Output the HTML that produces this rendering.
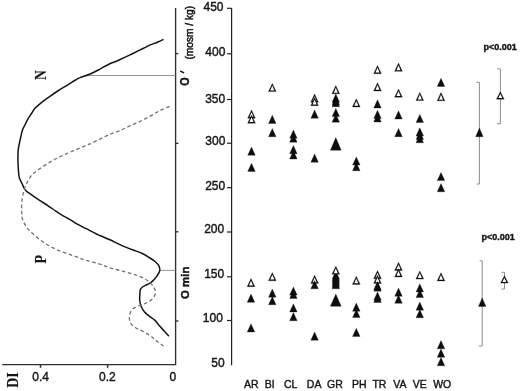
<!DOCTYPE html>
<html><head><meta charset="utf-8"><title>figure</title>
<style>
html,body{margin:0;padding:0;background:#fff;}
body{width:520px;height:391px;overflow:hidden;}
svg{display:block;filter:grayscale(1);}
text{font-family:"Liberation Sans",sans-serif;fill:#161616;stroke:#161616;stroke-width:0.4;}
.t12{font-size:12px;}
.t10{font-size:10.2px;}
.t105{font-size:10.5px;}
.b11{font-size:11px;font-weight:bold;}
.pb{font-size:9px;font-weight:bold;}
.ser{font-family:"Liberation Serif",serif;font-weight:bold;font-size:17.4px;stroke-width:0.15;}
.ax{fill:none;stroke:#303030;stroke-width:1.35;}
.ax2{fill:none;stroke:#222;stroke-width:1.2;}
.ref{fill:none;stroke:#8a8a8a;stroke-width:0.9;}
.br{fill:none;stroke:#8c8c8c;stroke-width:1;}
.sol{fill:none;stroke:#141414;stroke-width:1.5;stroke-linejoin:round;stroke-linecap:round;}
.dsh{fill:none;stroke:#727272;stroke-width:1.3;stroke-dasharray:3.6 2.6;}
.f{fill:#0e0e0e;stroke:#0e0e0e;stroke-width:0.3;stroke-linejoin:miter;}
.w{fill:#fff;}
</style></head>
<body><svg width="520" height="391" viewBox="0 0 520 391">
<path d="M175.6,7.9 V364.55 H2.2" class="ax"/>
<path d="M175.6,53.6 H178.4" class="ax"/>
<path d="M175.6,143.3 H178.4" class="ax"/>
<path d="M175.6,231.8 H178.4" class="ax"/>
<path d="M175.6,321.0 H178.4" class="ax"/>
<path d="M40.5,364.6 V367.8" class="ax" style="stroke-width:1.5"/>
<path d="M107.6,364.6 V367.8" class="ax" style="stroke-width:1.5"/>
<path d="M86.5,75.5 H175.6" class="ref"/>
<path d="M159.9,270.4 H175.6" class="ref"/>
<path d="M162.9,39.6 C162.1,40.0 160.2,41.0 157.9,42.0 C155.6,43.0 151.4,44.4 149.2,45.4 C146.9,46.4 146.0,47.0 144.4,47.8 C142.8,48.6 142.0,49.0 139.6,50.2 C137.2,51.4 133.5,53.2 130.0,54.9 C126.5,56.6 122.0,58.7 118.5,60.2 C115.0,61.8 112.0,62.7 108.8,64.2 C105.6,65.7 102.8,67.6 99.6,69.3 C96.4,71.0 92.9,72.9 89.6,74.3 C86.3,75.7 82.4,76.6 80.0,77.6 C77.6,78.5 77.7,78.6 75.4,80.0 C73.1,81.4 69.3,83.9 66.2,85.8 C63.1,87.7 60.0,89.5 56.9,91.5 C53.8,93.5 50.4,96.0 47.7,97.9 C45.0,99.8 42.9,101.4 40.8,103.1 C38.7,104.8 36.5,106.6 35.0,108.3 C33.5,110.0 32.6,111.8 31.5,113.5 C30.4,115.2 29.2,116.9 28.1,118.7 C27.1,120.5 26.1,122.5 25.2,124.4 C24.2,126.3 23.2,127.7 22.4,130.2 C21.6,132.7 20.9,136.4 20.2,139.6 C19.5,142.8 18.7,146.0 18.3,149.2 C17.9,152.4 17.9,155.6 17.9,158.8 C17.9,162.0 18.1,165.4 18.3,168.5 C18.5,171.6 18.6,174.5 19.2,177.1 C19.8,179.7 21.1,181.7 22.1,183.8 C23.1,185.9 23.8,188.0 25.0,189.6 C26.2,191.2 27.2,191.7 29.2,193.2 C31.2,194.7 34.4,196.9 37.0,198.6 C39.6,200.3 42.0,201.8 44.6,203.5 C47.2,205.2 50.1,207.2 52.8,209.0 C55.5,210.8 58.1,212.7 60.8,214.4 C63.5,216.1 66.5,217.5 69.2,219.1 C72.0,220.7 75.0,222.9 77.3,224.2 C79.6,225.5 81.0,226.0 83.1,227.1 C85.2,228.2 87.1,229.1 90.0,230.6 C92.9,232.1 97.1,234.3 100.4,235.8 C103.7,237.3 106.5,238.2 110.0,239.8 C113.5,241.4 117.7,243.7 121.5,245.4 C125.3,247.1 129.6,248.7 133.1,250.0 C136.6,251.3 139.6,252.2 142.3,253.5 C145.0,254.8 147.1,256.2 149.2,257.5 C151.3,258.8 153.4,260.2 155.0,261.5 C156.6,262.8 157.7,263.7 158.5,265.2 C159.3,266.7 160.1,268.5 159.8,270.3 C159.6,272.1 158.1,274.1 157.0,275.8 C155.9,277.5 154.4,279.3 153.1,280.6 C151.8,281.9 150.8,282.6 149.2,283.6 C147.6,284.6 144.8,285.5 143.3,286.5 C141.8,287.5 141.0,288.1 140.4,289.4 C139.8,290.7 140.0,292.5 139.9,294.3 C139.8,296.1 139.5,298.1 139.7,300.0 C139.9,301.9 140.1,303.8 140.9,305.7 C141.7,307.6 142.9,310.0 144.3,311.7 C145.7,313.4 147.4,314.7 149.2,316.1 C151.0,317.6 153.2,318.7 155.0,320.4 C156.8,322.1 158.3,324.5 159.9,326.3 C161.5,328.1 163.0,329.7 164.4,331.3 C165.8,332.9 167.8,335.0 168.5,335.7" class="sol"/>
<path d="M169.5,106.3 C167.8,107.1 162.6,109.2 159.2,111.0 C155.8,112.8 152.2,115.0 148.8,116.9 C145.4,118.8 141.9,120.6 138.5,122.2 C135.1,123.8 131.3,125.2 128.1,126.7 C124.9,128.2 122.3,129.7 119.4,130.9 C116.5,132.1 114.0,132.6 110.8,133.9 C107.6,135.2 103.6,137.2 100.4,138.8 C97.2,140.4 94.0,142.1 91.7,143.2 C89.4,144.3 89.6,143.9 86.5,145.2 C83.4,146.5 77.3,149.1 73.1,150.9 C68.9,152.7 65.3,154.1 61.5,156.0 C57.6,157.9 53.8,159.8 50.0,162.1 C46.2,164.4 41.5,167.4 38.5,169.6 C35.5,171.8 33.5,173.2 31.7,175.2 C29.9,177.2 28.9,179.2 27.7,181.4 C26.5,183.6 25.5,185.8 24.6,188.3 C23.8,190.8 23.1,193.6 22.6,196.3 C22.1,199.0 21.7,201.8 21.6,204.6 C21.5,207.4 21.6,210.5 21.8,213.0 C22.0,215.5 21.7,217.0 22.6,219.5 C23.5,222.0 25.4,225.5 27.3,228.1 C29.2,230.7 31.5,232.4 34.3,234.9 C37.1,237.4 40.3,240.3 44.2,242.8 C48.1,245.3 52.9,248.0 57.7,250.1 C62.5,252.2 68.3,253.9 73.1,255.6 C77.9,257.3 82.0,259.0 86.5,260.4 C91.0,261.8 96.1,262.9 100.0,264.2 C103.9,265.4 106.4,266.8 110.0,267.9 C113.6,269.0 117.7,269.8 121.5,270.8 C125.3,271.9 130.1,273.3 133.1,274.2 C136.1,275.1 137.3,275.4 139.5,276.3 C141.7,277.2 144.5,278.6 146.3,279.7 C148.2,280.8 149.3,281.8 150.6,283.2 C151.9,284.6 153.5,286.6 154.3,288.2 C155.1,289.8 155.6,291.3 155.4,293.0 C155.2,294.7 154.3,296.7 153.1,298.2 C151.9,299.7 150.0,300.8 148.4,301.8 C146.8,302.8 145.3,303.4 143.5,304.2 C141.7,304.9 139.3,305.4 137.5,306.3 C135.7,307.2 133.8,308.1 132.5,309.3 C131.2,310.5 130.5,312.1 130.0,313.5 C129.5,314.9 129.2,315.9 129.3,317.5 C129.4,319.1 129.6,321.6 130.7,323.3 C131.8,325.0 133.6,326.4 135.6,327.7 C137.6,329.0 140.1,329.9 142.4,331.1 C144.7,332.3 147.3,333.8 149.2,335.0 C151.1,336.2 152.2,337.2 153.6,338.3 C155.0,339.4 155.9,340.5 157.6,341.8 C159.3,343.1 162.6,345.3 163.6,346.0" class="dsh"/>
<text x="40.7" y="380.9" class="t12" text-anchor="middle">0.4</text>
<text x="107.3" y="380.9" class="t12" text-anchor="middle">0.2</text>
<text x="172.9" y="380.9" class="t12" text-anchor="middle">0</text>
<text transform="translate(46.0,79.9) rotate(-90) scale(0.78,1)" class="ser">N</text>
<text transform="translate(45.9,263.6) rotate(-90) scale(0.80,1)" class="ser">P</text>
<text transform="translate(17.7,387.8) rotate(-90) scale(0.80,1)" class="ser">DI</text>
<text transform="translate(192.9,59.6) rotate(-90) scale(1,1.04)" class="t10" style="stroke-width:0.5">(mosm / kg)</text>
<text transform="translate(188.9,85.8) rotate(-90) scale(0.98,1.1)" class="b11">O</text>
<path d="M180.6,71.3 L183.6,72.6" style="stroke:#161616;stroke-width:1.5;stroke-linecap:round;fill:none"/>
<text transform="translate(189.0,298.9) rotate(-90) scale(1.035,1.02)" class="b11">O min</text>
<path d="M231.6,8.0 V365.3" class="ax2"/>
<path d="M227.0,8.3 H231.6" class="ax2"/>
<text x="223.5" y="10.8" class="t12" text-anchor="end">450</text>
<path d="M227.0,53.8 H231.6" class="ax2"/>
<text x="225.4" y="56.0" class="t12" text-anchor="end">400</text>
<path d="M227.0,99.5 H231.6" class="ax2"/>
<text x="225.2" y="102.5" class="t12" text-anchor="end">350</text>
<path d="M227.0,143.2 H231.6" class="ax2"/>
<text x="225.4" y="144.8" class="t12" text-anchor="end">300</text>
<path d="M227.0,187.7 H231.6" class="ax2"/>
<text x="225.2" y="189.5" class="t12" text-anchor="end">250</text>
<path d="M227.0,232.0 H231.6" class="ax2"/>
<text x="224.2" y="233.0" class="t12" text-anchor="end">200</text>
<path d="M227.0,276.8 H231.6" class="ax2"/>
<text x="224.2" y="278.2" class="t12" text-anchor="end">150</text>
<path d="M227.0,320.5 H231.6" class="ax2"/>
<text x="222.9" y="321.8" class="t12" text-anchor="end">100</text>
<text x="224.6" y="366.7" class="t12" text-anchor="end">50</text>
<text x="251.2" y="387.5" class="t105" text-anchor="middle">AR</text>
<text x="269.8" y="387.5" class="t105" text-anchor="middle">BI</text>
<text x="290.6" y="387.5" class="t105" text-anchor="middle">CL</text>
<text x="314.1" y="387.5" class="t105" text-anchor="middle">DA</text>
<text x="334.9" y="387.5" class="t105" text-anchor="middle">GR</text>
<text x="359.3" y="387.5" class="t105" text-anchor="middle">PH</text>
<text x="379.4" y="387.5" class="t105" text-anchor="middle">TR</text>
<text x="399.9" y="387.5" class="t105" text-anchor="middle">VA</text>
<text x="419.7" y="387.5" class="t105" text-anchor="middle">VE</text>
<text x="442.2" y="387.5" class="t105" text-anchor="middle">WO</text>
<path d="M476.2,82.2 H479.4 V184.0 H476.6" class="br"/>
<path d="M497.2,68.9 H500.4 V123.8 H497.0" class="br"/>
<path d="M479.6,260.8 H482.2 V346.0 H478.8" class="br"/>
<path d="M501.5,272.3 H504.5 V289.0 H501.5" class="br"/>
<path d="M398.50,63.10 L402.35,71.30 L394.65,71.30 Z" class="f"/><path d="M398.50,65.30 L400.50,70.15 L396.50,70.15 Z" class="w"/>
<path d="M377.50,65.50 L381.35,73.70 L373.65,73.70 Z" class="f"/><path d="M377.50,67.70 L379.50,72.55 L375.50,72.55 Z" class="w"/>
<path d="M441.00,78.30 L444.75,86.50 L437.25,86.50 Z" class="f"/>
<path d="M377.50,82.80 L381.35,91.00 L373.65,91.00 Z" class="f"/><path d="M377.50,85.00 L379.50,89.85 L375.50,89.85 Z" class="w"/>
<path d="M272.30,83.40 L276.15,91.60 L268.45,91.60 Z" class="f"/><path d="M272.30,85.60 L274.30,90.45 L270.30,90.45 Z" class="w"/>
<path d="M335.80,85.60 L339.65,93.80 L331.95,93.80 Z" class="f"/><path d="M335.80,87.80 L337.80,92.65 L333.80,92.65 Z" class="w"/>
<path d="M398.50,89.00 L402.35,97.20 L394.65,97.20 Z" class="f"/><path d="M398.50,91.20 L400.50,96.05 L396.50,96.05 Z" class="w"/>
<path d="M419.80,92.40 L423.65,100.60 L415.95,100.60 Z" class="f"/><path d="M419.80,94.60 L421.80,99.45 L417.80,99.45 Z" class="w"/>
<path d="M441.00,92.60 L444.85,100.80 L437.15,100.80 Z" class="f"/><path d="M441.00,94.80 L443.00,99.65 L439.00,99.65 Z" class="w"/>
<path d="M314.60,94.00 L318.45,102.20 L310.75,102.20 Z" class="f"/><path d="M314.60,96.20 L316.60,101.05 L312.60,101.05 Z" class="w"/>
<path d="M335.80,94.00 L339.55,102.20 L332.05,102.20 Z" class="f"/>
<path d="M335.80,96.50 L339.55,104.70 L332.05,104.70 Z" class="f"/>
<path d="M314.60,97.50 L318.45,105.70 L310.75,105.70 Z" class="f"/><path d="M314.60,99.70 L316.60,104.55 L312.60,104.55 Z" class="w"/>
<path d="M335.80,98.50 L339.55,106.70 L332.05,106.70 Z" class="f"/>
<path d="M356.30,98.80 L360.15,107.00 L352.45,107.00 Z" class="f"/><path d="M356.30,101.00 L358.30,105.85 L354.30,105.85 Z" class="w"/>
<path d="M377.50,99.80 L381.25,108.00 L373.75,108.00 Z" class="f"/>
<path d="M335.80,108.40 L339.55,116.60 L332.05,116.60 Z" class="f"/>
<path d="M251.50,110.00 L255.35,118.20 L247.65,118.20 Z" class="f"/><path d="M251.50,112.20 L253.50,117.05 L249.50,117.05 Z" class="w"/>
<path d="M314.60,110.00 L318.35,118.20 L310.85,118.20 Z" class="f"/>
<path d="M377.50,110.30 L381.25,118.50 L373.75,118.50 Z" class="f"/>
<path d="M398.50,110.80 L402.25,119.00 L394.75,119.00 Z" class="f"/>
<path d="M377.50,113.80 L381.25,122.00 L373.75,122.00 Z" class="f"/>
<path d="M335.80,114.00 L339.55,122.20 L332.05,122.20 Z" class="f"/>
<path d="M419.80,114.40 L423.55,122.60 L416.05,122.60 Z" class="f"/>
<path d="M251.50,115.00 L255.35,123.20 L247.65,123.20 Z" class="f"/><path d="M251.50,117.20 L253.50,122.05 L249.50,122.05 Z" class="w"/>
<path d="M272.30,115.20 L276.05,123.40 L268.55,123.40 Z" class="f"/>
<path d="M419.80,127.80 L423.55,136.00 L416.05,136.00 Z" class="f"/>
<path d="M272.30,128.50 L276.05,136.70 L268.55,136.70 Z" class="f"/>
<path d="M398.50,128.50 L402.25,136.70 L394.75,136.70 Z" class="f"/>
<path d="M293.40,130.00 L297.15,138.20 L289.65,138.20 Z" class="f"/>
<path d="M419.80,131.20 L423.55,139.40 L416.05,139.40 Z" class="f"/>
<path d="M293.40,134.00 L297.15,142.20 L289.65,142.20 Z" class="f"/>
<path d="M419.80,134.60 L423.55,142.80 L416.05,142.80 Z" class="f"/>
<path d="M335.80,137.50 L341.20,150.20 L330.40,150.20 Z" class="f"/>
<path d="M293.40,145.60 L297.15,153.80 L289.65,153.80 Z" class="f"/>
<path d="M251.50,147.00 L255.25,155.20 L247.75,155.20 Z" class="f"/>
<path d="M293.40,150.80 L297.15,159.00 L289.65,159.00 Z" class="f"/>
<path d="M314.60,154.00 L318.35,162.20 L310.85,162.20 Z" class="f"/>
<path d="M356.30,156.90 L360.05,165.10 L352.55,165.10 Z" class="f"/>
<path d="M356.30,162.60 L360.05,170.80 L352.55,170.80 Z" class="f"/>
<path d="M251.50,163.20 L255.25,171.40 L247.75,171.40 Z" class="f"/>
<path d="M441.00,172.40 L444.75,180.60 L437.25,180.60 Z" class="f"/>
<path d="M441.00,183.60 L444.75,191.80 L437.25,191.80 Z" class="f"/>
<path d="M398.50,262.30 L402.35,270.50 L394.65,270.50 Z" class="f"/><path d="M398.50,264.50 L400.50,269.35 L396.50,269.35 Z" class="w"/>
<path d="M398.50,268.70 L402.35,276.90 L394.65,276.90 Z" class="f"/><path d="M398.50,270.90 L400.50,275.75 L396.50,275.75 Z" class="w"/>
<path d="M377.50,270.60 L381.35,278.80 L373.65,278.80 Z" class="f"/><path d="M377.50,272.80 L379.50,277.65 L375.50,277.65 Z" class="w"/>
<path d="M419.80,270.90 L423.65,279.10 L415.95,279.10 Z" class="f"/><path d="M419.80,273.10 L421.80,277.95 L417.80,277.95 Z" class="w"/>
<path d="M335.80,271.00 L339.55,279.20 L332.05,279.20 Z" class="f"/>
<path d="M272.30,272.50 L276.15,280.70 L268.45,280.70 Z" class="f"/><path d="M272.30,274.70 L274.30,279.55 L270.30,279.55 Z" class="w"/>
<path d="M441.00,272.70 L444.85,280.90 L437.15,280.90 Z" class="f"/><path d="M441.00,274.90 L443.00,279.75 L439.00,279.75 Z" class="w"/>
<path d="M335.80,273.00 L339.55,281.20 L332.05,281.20 Z" class="f"/>
<path d="M335.80,275.00 L339.55,283.20 L332.05,283.20 Z" class="f"/>
<path d="M314.60,275.20 L318.45,283.40 L310.75,283.40 Z" class="f"/><path d="M314.60,277.40 L316.60,282.25 L312.60,282.25 Z" class="w"/>
<path d="M377.50,275.20 L381.35,283.40 L373.65,283.40 Z" class="f"/><path d="M377.50,277.40 L379.50,282.25 L375.50,282.25 Z" class="w"/>
<path d="M356.30,276.20 L360.15,284.40 L352.45,284.40 Z" class="f"/><path d="M356.30,278.40 L358.30,283.25 L354.30,283.25 Z" class="w"/>
<path d="M335.80,277.00 L339.55,285.20 L332.05,285.20 Z" class="f"/>
<path d="M251.00,278.50 L254.85,286.70 L247.15,286.70 Z" class="f"/><path d="M251.00,280.70 L253.00,285.55 L249.00,285.55 Z" class="w"/>
<path d="M335.80,279.00 L339.55,287.20 L332.05,287.20 Z" class="f"/>
<path d="M335.80,280.50 L339.55,288.70 L332.05,288.70 Z" class="f"/>
<path d="M314.60,280.60 L318.35,288.80 L310.85,288.80 Z" class="f"/>
<path d="M377.50,281.60 L381.25,289.80 L373.75,289.80 Z" class="f"/>
<path d="M377.50,283.00 L381.25,291.20 L373.75,291.20 Z" class="f"/>
<path d="M419.80,283.80 L423.55,292.00 L416.05,292.00 Z" class="f"/>
<path d="M293.40,286.90 L297.15,295.10 L289.65,295.10 Z" class="f"/>
<path d="M398.50,288.10 L402.25,296.30 L394.75,296.30 Z" class="f"/>
<path d="M272.30,289.00 L276.05,297.20 L268.55,297.20 Z" class="f"/>
<path d="M419.80,289.40 L423.55,297.60 L416.05,297.60 Z" class="f"/>
<path d="M293.40,290.20 L297.15,298.40 L289.65,298.40 Z" class="f"/>
<path d="M377.50,292.00 L381.25,300.20 L373.75,300.20 Z" class="f"/>
<path d="M335.80,293.90 L341.20,306.30 L330.40,306.30 Z" class="f"/>
<path d="M251.00,294.10 L254.75,302.30 L247.25,302.30 Z" class="f"/>
<path d="M377.50,294.20 L381.25,302.40 L373.75,302.40 Z" class="f"/>
<path d="M398.50,295.10 L402.25,303.30 L394.75,303.30 Z" class="f"/>
<path d="M272.30,296.50 L276.05,304.70 L268.55,304.70 Z" class="f"/>
<path d="M419.80,302.00 L423.55,310.20 L416.05,310.20 Z" class="f"/>
<path d="M356.30,303.10 L360.05,311.30 L352.55,311.30 Z" class="f"/>
<path d="M293.40,303.80 L297.15,312.00 L289.65,312.00 Z" class="f"/>
<path d="M356.30,309.40 L360.05,317.60 L352.55,317.60 Z" class="f"/>
<path d="M419.80,309.50 L423.55,317.70 L416.05,317.70 Z" class="f"/>
<path d="M293.40,312.50 L297.15,320.70 L289.65,320.70 Z" class="f"/>
<path d="M251.00,323.80 L254.75,332.00 L247.25,332.00 Z" class="f"/>
<path d="M356.30,328.20 L360.05,336.40 L352.55,336.40 Z" class="f"/>
<path d="M314.60,332.00 L318.35,340.20 L310.85,340.20 Z" class="f"/>
<path d="M441.00,340.60 L444.75,348.80 L437.25,348.80 Z" class="f"/>
<path d="M441.00,349.10 L444.75,357.30 L437.25,357.30 Z" class="f"/>
<path d="M441.00,357.60 L444.75,365.80 L437.25,365.80 Z" class="f"/>
<path d="M479.40,128.10 L483.15,136.70 L475.65,136.70 Z" class="f"/>
<path d="M500.30,91.70 L504.15,99.20 L496.45,99.20 Z" class="f"/><path d="M500.30,93.90 L502.30,98.05 L498.30,98.05 Z" class="w"/>
<path d="M482.20,298.00 L485.95,306.40 L478.45,306.40 Z" class="f"/>
<path d="M504.40,275.70 L508.25,283.10 L500.55,283.10 Z" class="f"/><path d="M504.40,277.90 L506.40,281.95 L502.40,281.95 Z" class="w"/>
<path d="M335.80,266.20 L339.65,274.30 L331.95,274.30 Z" class="f"/><path d="M335.80,268.40 L337.80,273.15 L333.80,273.15 Z" class="w"/>
<text x="483.4" y="50.2" class="pb">p&lt;0.001</text>
<text x="481.4" y="240.1" class="pb">p&lt;0.001</text>
</svg></body></html>
